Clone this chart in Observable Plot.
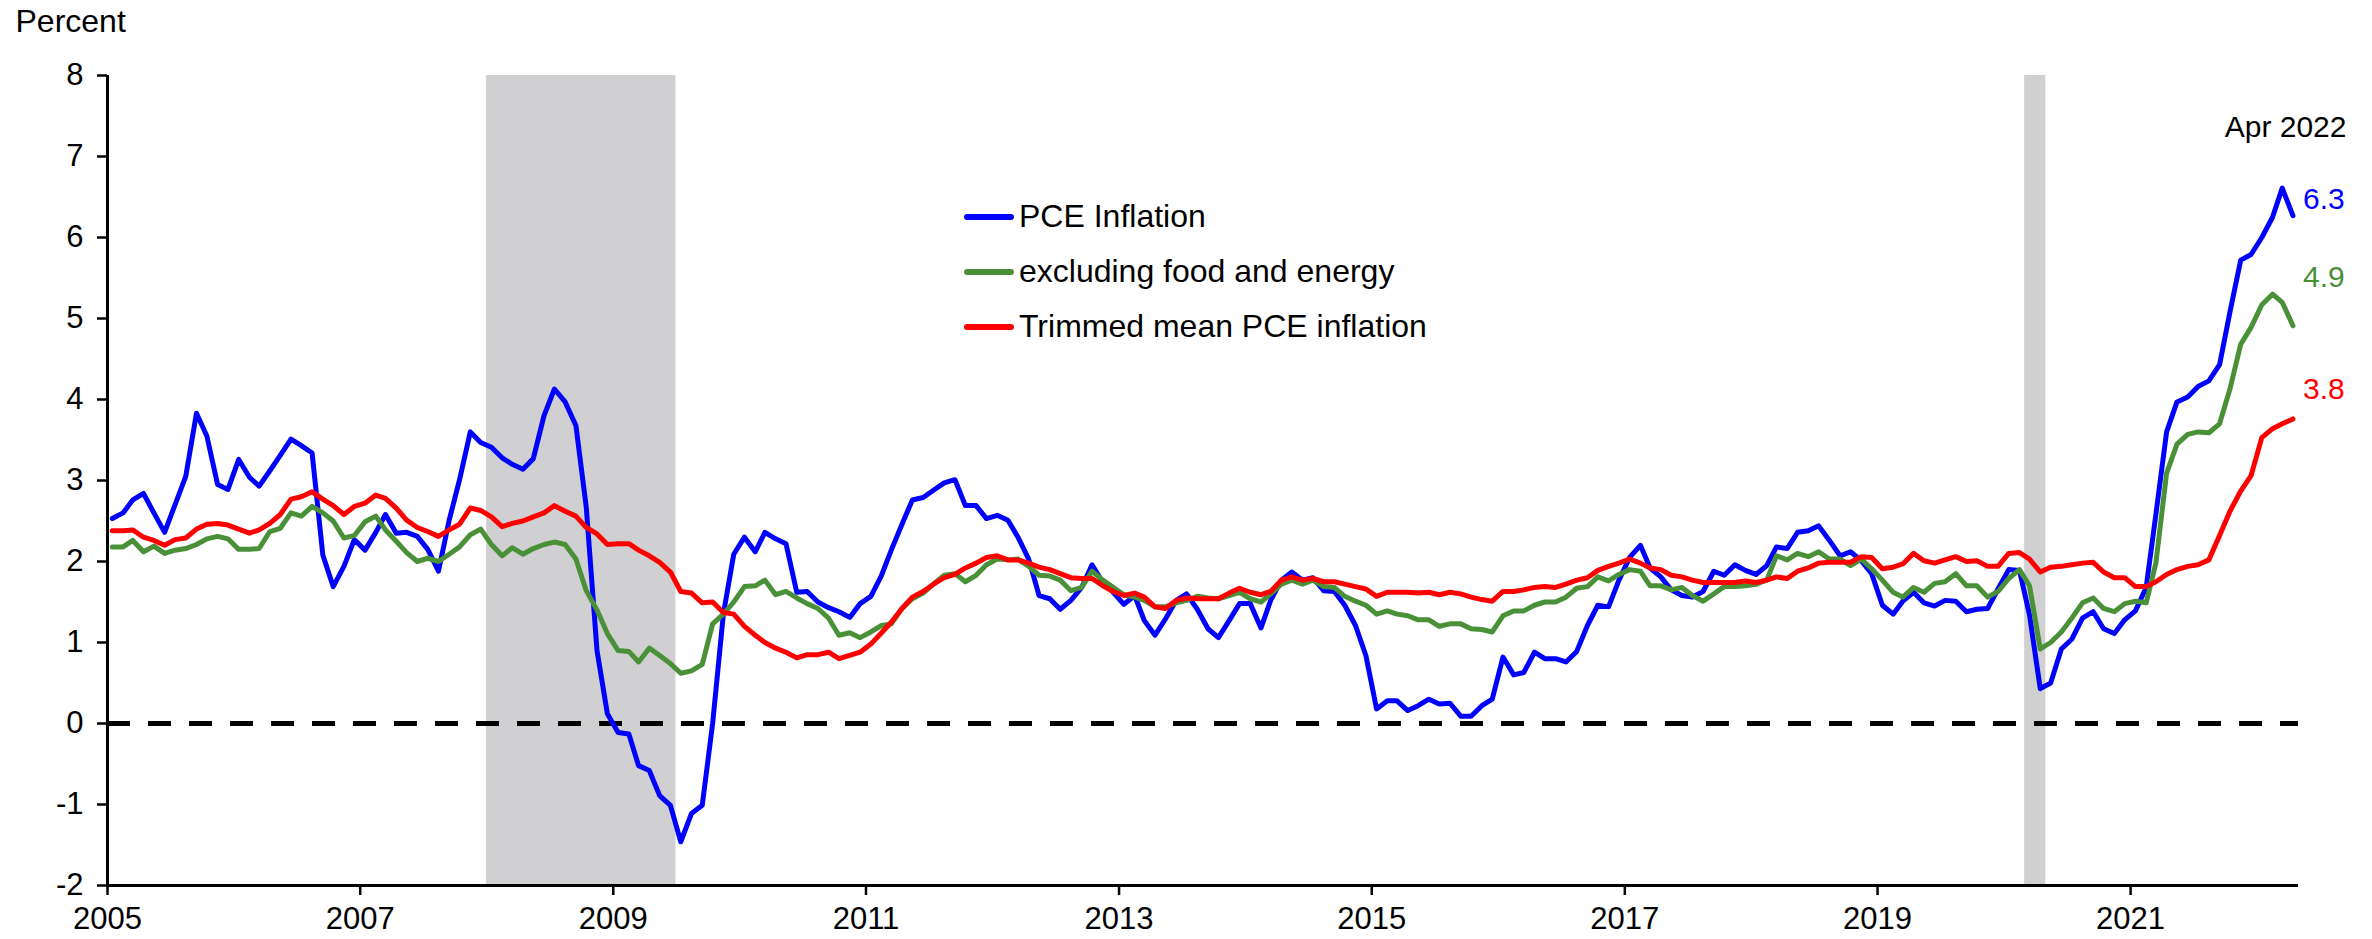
<!DOCTYPE html>
<html>
<head>
<meta charset="utf-8">
<script src="https://cdn.jsdelivr.net/npm/d3@7"></script>
<script src="https://cdn.jsdelivr.net/npm/@observablehq/plot@0.6"></script>
<style>
  html, body { margin: 0; padding: 0; background: #fff; }
  #wrap { position: relative; width: 2372px; height: 939px; font-family: "Liberation Sans", Arial, sans-serif; }
  #legend { position: absolute; left: 964px; top: 189px; font-size: 32px; color: #000; }
  #legend .row { display: flex; align-items: center; height: 55px; }
  #legend .sw { width: 50px; height: 6px; border-radius: 3px; margin-right: 5px; }
</style>
</head>
<body>
<div id="wrap"><div id="chart"></div><div id="legend"></div></div>
<script>
// Monthly 12-month inflation rates, Jan 2005 – Apr 2022 (percent)
const pce = [
2.53,2.60,2.76,2.84,2.60,2.36,2.70,3.05,3.83,3.55,2.95,2.89,
3.26,3.04,2.93,3.12,3.31,3.51,3.43,3.34,2.08,1.69,1.94,2.27,
2.14,2.36,2.58,2.35,2.36,2.31,2.15,1.88,2.51,3.01,3.60,3.47,
3.41,3.28,3.20,3.14,3.27,3.80,4.13,3.97,3.68,2.67,0.90,0.12,
-0.11,-0.13,-0.52,-0.58,-0.89,-1.01,-1.46,-1.11,-1.01,0.00,1.35,2.09,
2.30,2.12,2.36,2.28,2.22,1.62,1.63,1.50,1.43,1.38,1.31,1.48,
1.57,1.83,2.14,2.46,2.76,2.79,2.88,2.97,3.01,2.69,2.69,2.53,
2.57,2.51,2.30,2.03,1.58,1.54,1.41,1.52,1.68,1.96,1.74,1.62,
1.47,1.58,1.27,1.09,1.29,1.52,1.60,1.41,1.17,1.06,1.27,1.48,
1.48,1.18,1.52,1.77,1.87,1.77,1.80,1.64,1.63,1.46,1.21,0.84,
0.18,0.28,0.28,0.16,0.22,0.30,0.24,0.25,0.09,0.09,0.22,0.30,
0.82,0.60,0.63,0.88,0.80,0.80,0.76,0.89,1.21,1.46,1.44,1.77,
2.05,2.20,1.92,1.81,1.65,1.58,1.56,1.63,1.88,1.83,1.96,1.89,
1.84,1.95,2.18,2.16,2.36,2.38,2.44,2.26,2.07,2.12,2.01,1.85,
1.46,1.35,1.51,1.62,1.49,1.45,1.52,1.51,1.38,1.41,1.42,1.66,
1.90,1.89,1.34,0.43,0.50,0.92,1.04,1.30,1.38,1.17,1.11,1.28,
1.39,1.68,2.58,3.60,3.97,4.03,4.16,4.23,4.43,5.08,5.72,5.79,
6.00,6.25,6.61,6.27];

const core = [
2.18,2.18,2.26,2.12,2.19,2.10,2.14,2.16,2.21,2.28,2.31,2.28,
2.15,2.15,2.16,2.37,2.41,2.60,2.56,2.68,2.60,2.50,2.29,2.32,
2.49,2.56,2.39,2.25,2.11,2.00,2.04,2.00,2.09,2.18,2.33,2.40,
2.21,2.07,2.17,2.09,2.16,2.21,2.24,2.21,2.03,1.64,1.40,1.11,
0.90,0.89,0.76,0.93,0.84,0.74,0.62,0.65,0.73,1.23,1.35,1.50,
1.69,1.70,1.77,1.59,1.63,1.55,1.48,1.42,1.30,1.09,1.12,1.06,
1.13,1.21,1.23,1.42,1.54,1.61,1.72,1.83,1.85,1.75,1.83,1.96,
2.03,2.02,2.03,1.94,1.83,1.82,1.77,1.64,1.68,1.88,1.77,1.68,
1.59,1.56,1.52,1.44,1.44,1.49,1.52,1.57,1.55,1.54,1.58,1.62,
1.54,1.50,1.60,1.72,1.77,1.72,1.77,1.69,1.68,1.57,1.51,1.46,
1.35,1.39,1.35,1.33,1.28,1.28,1.20,1.23,1.23,1.17,1.16,1.13,
1.33,1.39,1.39,1.46,1.50,1.50,1.56,1.67,1.69,1.81,1.76,1.84,
1.90,1.88,1.70,1.70,1.65,1.68,1.58,1.51,1.60,1.69,1.69,1.70,
1.72,1.77,2.07,2.02,2.10,2.06,2.12,2.03,2.03,1.95,2.03,1.91,
1.77,1.62,1.56,1.68,1.62,1.73,1.75,1.85,1.70,1.70,1.56,1.63,
1.79,1.90,1.70,0.92,1.00,1.13,1.30,1.49,1.55,1.42,1.38,1.48,
1.51,1.49,1.98,3.09,3.45,3.57,3.60,3.59,3.70,4.13,4.68,4.89,
5.17,5.30,5.20,4.91];

const trimmed = [
2.38,2.38,2.39,2.30,2.26,2.20,2.27,2.29,2.40,2.46,2.47,2.45,
2.40,2.35,2.39,2.47,2.58,2.77,2.80,2.86,2.77,2.69,2.58,2.68,
2.72,2.82,2.78,2.66,2.51,2.42,2.37,2.31,2.39,2.46,2.66,2.63,
2.55,2.43,2.47,2.50,2.55,2.60,2.69,2.62,2.56,2.42,2.34,2.21,
2.22,2.22,2.14,2.07,1.99,1.87,1.63,1.61,1.49,1.50,1.37,1.35,
1.20,1.09,1.00,0.93,0.88,0.81,0.85,0.85,0.88,0.80,0.84,0.88,
0.98,1.12,1.25,1.42,1.56,1.63,1.72,1.80,1.84,1.92,1.98,2.05,
2.07,2.02,2.02,1.98,1.93,1.90,1.85,1.80,1.79,1.79,1.70,1.63,
1.58,1.61,1.56,1.44,1.42,1.52,1.55,1.54,1.54,1.54,1.61,1.67,
1.62,1.59,1.63,1.77,1.81,1.77,1.79,1.75,1.75,1.72,1.69,1.66,
1.57,1.62,1.62,1.62,1.61,1.62,1.59,1.62,1.60,1.56,1.53,1.51,
1.63,1.63,1.65,1.68,1.69,1.68,1.72,1.77,1.80,1.89,1.94,1.98,
2.03,1.98,1.92,1.90,1.83,1.81,1.77,1.74,1.74,1.74,1.74,1.76,
1.74,1.77,1.81,1.79,1.88,1.92,1.98,1.99,1.99,1.99,2.06,2.05,
1.91,1.93,1.97,2.10,2.01,1.98,2.02,2.06,2.00,2.01,1.94,1.94,
2.10,2.11,2.03,1.87,1.93,1.94,1.96,1.98,1.99,1.87,1.80,1.80,
1.69,1.69,1.75,1.84,1.90,1.94,1.96,2.02,2.32,2.62,2.87,3.06,
3.53,3.64,3.70,3.76];

const seriesNames = ["PCE Inflation", "excluding food and energy", "Trimmed mean PCE inflation"];
const seriesColors = ["#0000ff", "#4a9038", "#ff0000"];
const recessions = [
  {start: "2008-01-01", end: "2009-07-01"},
  {start: "2020-03-01", end: "2020-05-01"}
];
const yTicks = [-2, -1, 0, 1, 2, 3, 4, 5, 6, 7, 8];
const xTickYears = [2005, 2007, 2009, 2011, 2013, 2015, 2017, 2019, 2021];
const lastLabel = "Apr 2022";

// build tidy table
const dateOf = i => new Date(Date.UTC(2005, i, 15));
const rows = [];
[pce, core, trimmed].forEach((arr, s) => arr.forEach((v, i) => rows.push({date: dateOf(i), value: v, series: seriesNames[s]})));
const lastRows = [pce, core, trimmed].map((arr, s) => ({date: dateOf(arr.length - 1), value: arr[arr.length - 1], series: seriesNames[s]}));
const rec = recessions.map(r => ({x1: new Date(r.start + "T00:00Z"), x2: new Date(r.end + "T00:00Z")}));
const xDomain = [new Date(Date.UTC(2005, 0, 1)), new Date(Date.UTC(2022, 4, 1))];

const colorScale = {domain: seriesNames, range: seriesColors};
const labelDy = [-16, -48, -30];

const plot = Plot.plot({
  width: 2372,
  height: 939,
  marginLeft: 107,
  marginRight: 74,
  marginTop: 75,
  marginBottom: 54,
  style: {fontFamily: "'Liberation Sans', Arial, sans-serif", fontSize: "30px", color: "#000", background: "#fff"},
  x: {type: "utc", domain: xDomain},
  y: {domain: [-2, 8]},
  color: colorScale,
  marks: [
    Plot.rectX(rec, {x1: "x1", x2: "x2", y1: -2, y2: 8, fill: "#d0cfd1"}),
    Plot.ruleY([0], {stroke: "#000", strokeWidth: 5, strokeDasharray: "23,18"}),
    Plot.line(rows, {x: "date", y: "value", z: "series", stroke: "series", strokeWidth: 5, strokeLinejoin: "round", strokeLinecap: "round"}),
    Plot.axisY({ticks: yTicks, tickSize: 10, tickPadding: 14, tickFormat: d => String(d), strokeWidth: 2.5, fontSize: 31, label: null}),
    Plot.axisX({ticks: xTickYears.map(y => new Date(Date.UTC(y, 0, 1))), tickFormat: d3.utcFormat("%Y"), tickSize: 10, tickPadding: 11, strokeWidth: 2.5, fontSize: 31, label: null}),
    Plot.ruleX([xDomain[0]], {stroke: "#000", strokeWidth: 3}),
    Plot.ruleY([-2], {stroke: "#000", strokeWidth: 3}),
    ...lastRows.map((d, i) => Plot.text([d], {x: "date", y: "value", text: d => d.value.toFixed(1), fill: seriesColors[i], textAnchor: "start", dx: 10, dy: labelDy[i], lineAnchor: "middle"})),
    Plot.text([lastLabel], {frameAnchor: "top-right", dx: 48, dy: 52, textAnchor: "end", lineAnchor: "middle", fill: "#000"}),
    Plot.text(["Percent"], {frameAnchor: "top-left", dx: -92, dy: -54, textAnchor: "start", lineAnchor: "middle", fill: "#000", fontSize: 32})
  ]
});
document.getElementById("chart").appendChild(plot);

const legend = document.getElementById("legend");
seriesNames.forEach((n, i) => {
  const row = document.createElement("div");
  row.className = "row";
  const sw = document.createElement("div");
  sw.className = "sw";
  sw.style.background = seriesColors[i];
  const t = document.createElement("span");
  t.textContent = n;
  row.appendChild(sw); row.appendChild(t);
  legend.appendChild(row);
});
</script>
</body>
</html>
